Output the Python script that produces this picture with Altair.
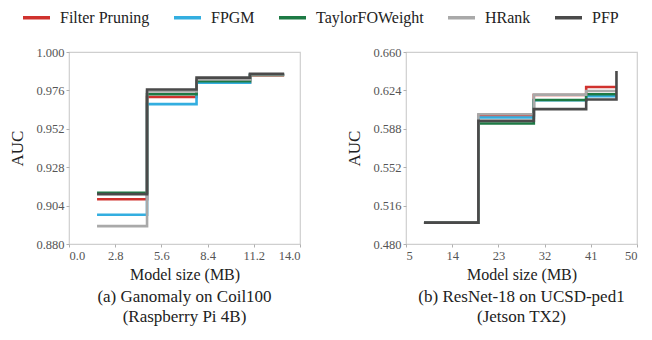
import altair as alt
import pandas as pd

methods = ["Filter Pruning", "FPGM", "TaylorFOWeight", "HRank", "PFP"]
colors = ["#d0322e", "#33aee0", "#1d7a44", "#a9a9a9", "#4a4a4a"]

# Panel (a): Ganomaly on Coil100
xa = [1.7, 4.73, 7.73, 10.97, 13.04]
ya = {
    "Filter Pruning": [0.908, 0.9719, 0.9810, 0.9855, 0.9855],
    "FPGM": [0.8983, 0.9674, 0.9808, 0.9858, 0.9858],
    "TaylorFOWeight": [0.912, 0.9736, 0.9817, 0.9856, 0.9856],
    "HRank": [0.8912, 0.9753, 0.9828, 0.9860, 0.9860],
    "PFP": [0.9112, 0.9766, 0.9840, 0.9863, 0.9863],
}

# Panel (b): ResNet-18 on UCSD-ped1
xb = [8.5, 19.1, 29.9, 40.1, 46.0]
yb = {
    "Filter Pruning": [0.500, 0.6005, 0.6197, 0.6272, 0.6272],
    "FPGM": [0.500, 0.5986, 0.6148, 0.6185, 0.6185],
    "TaylorFOWeight": [0.500, 0.5930, 0.6150, 0.6204, 0.6204],
    "HRank": [0.500, 0.6017, 0.6200, 0.6235, 0.6235],
    "PFP": [0.500, 0.5954, 0.6064, 0.6154, 0.6422],
}

xa_ticks = [0.0, 2.8, 5.6, 8.4, 11.2, 14.0]
ya_ticks = [0.880, 0.904, 0.928, 0.952, 0.976, 1.000]
xb_ticks = [5, 14, 23, 32, 41, 50]
yb_ticks = [0.480, 0.516, 0.552, 0.588, 0.624, 0.660]


def table(xs, ys):
    rows = []
    for i, m in enumerate(methods):
        for x, y in zip(xs, ys[m]):
            rows.append({"method": m, "x": x, "y": y, "order": i})
    return pd.DataFrame(rows)


FONT = "Liberation Serif, 'Times New Roman', 'DejaVu Serif', serif"

color = alt.Color(
    "method:N",
    scale=alt.Scale(domain=methods, range=colors),
    legend=alt.Legend(
        title=None,
        orient="none",
        direction="horizontal",
        legendX=-48,
        legendY=-50,
        symbolType="stroke",
        symbolSize=729,
        symbolStrokeWidth=3.5,
        labelFont=FONT,
        labelFontWeight="normal",
        labelFontSize=16,
        labelColor="#222222",
        columnPadding=17,
        labelOffset=8,
    ),
)


def panel(df, xdom, xt, xfmt, ydom, yt, caption):
    return (
        alt.Chart(df)
        .mark_line(interpolate="step-after", strokeWidth=2.6)
        .encode(
            x=alt.X(
                "x:Q",
                scale=alt.Scale(domain=xdom, nice=False, zero=False),
                axis=alt.Axis(values=xt, format=xfmt, title="Model size (MB)",
                              labelFont=FONT, titleFont=FONT),
            ),
            y=alt.Y(
                "y:Q",
                scale=alt.Scale(domain=ydom, nice=False, zero=False),
                axis=alt.Axis(values=yt, format=".3f", title="AUC",
                              labelFont=FONT, titleFont=FONT),
            ),
            color=color,
            order=alt.Order("order:Q"),
        )
        .properties(
            width=231,
            height=192,
            title=alt.TitleParams(
                text=caption,
                orient="bottom",
                anchor="middle",
                frame="group",
                font=FONT,
                fontSize=17,
                fontWeight="normal",
                color="#222222",
                lineHeight=20,
                offset=6,
            ),
        )
    )


left = panel(table(xa, ya), [0, 14], xa_ticks, ".1f", [0.88, 1.0], ya_ticks,
             ["(a) Ganomaly on Coil100", "(Raspberry Pi 4B)"])
right = panel(table(xb, yb), [5, 50], xb_ticks, "d", [0.48, 0.66], yb_ticks,
              ["(b) ResNet-18 on UCSD-ped1", "(Jetson TX2)"])

chart = (
    alt.hconcat(left, right, spacing=43)
    .properties(padding={"left": 0, "top": -6, "right": 0, "bottom": 0})
    .configure(font=FONT)
    .configure_view(stroke="#cfcfcf", strokeWidth=1.2)
    .configure_axis(
        grid=False,
        domain=False,
        tickColor="#b0b0b0",
        tickSize=3,
        labelFont=FONT,
        labelFontSize=12.5,
        labelColor="#555555",
        labelPadding=2,
        titleFont=FONT,
        titleFontWeight="normal",
        titleColor="#222222",
    )
    .configure_axisY(titleFontSize=17, titlePadding=9)
    .configure_axisX(titleFontSize=16, titlePadding=5)
)

chart.save("out.html", embed_options={"renderer": "svg", "actions": False})
